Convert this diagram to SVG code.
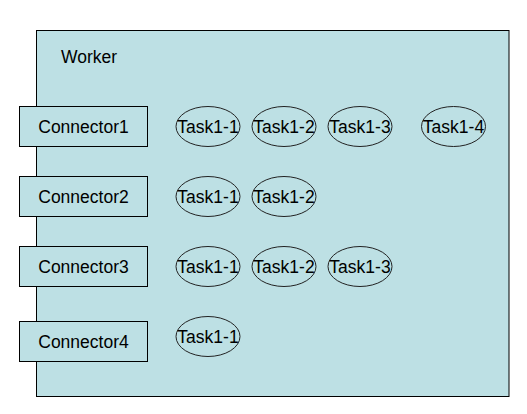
<svg xmlns="http://www.w3.org/2000/svg" width="527" height="414" viewBox="0 0 527 414">
<style>
.bx{fill:#bde0e4;stroke:#000;stroke-width:1}
.el{fill:#bde0e4;stroke:#222;stroke-width:1}
text{font-family:"Liberation Sans",Arial,sans-serif;font-size:17.5px;fill:#000}
.c{text-anchor:middle}
</style>
<rect width="527" height="414" fill="#fff"/>
<g id="worker">
<rect class="bx" x="36.5" y="30.5" width="472.5" height="366"/>
<text x="61" y="62.5">Worker</text>
</g>
<g id="connector1"><rect class="bx" x="19.5" y="106.5" width="128" height="40"/><text class="c" x="83.5" y="133">Connector1</text></g>
<g id="connector2"><rect class="bx" x="19.5" y="176.5" width="128" height="40"/><text class="c" x="83.5" y="203">Connector2</text></g>
<g id="connector3"><rect class="bx" x="19.5" y="246.5" width="128" height="40"/><text class="c" x="83.5" y="273">Connector3</text></g>
<g id="connector4"><rect class="bx" x="19.5" y="321.5" width="128" height="40"/><text class="c" x="83.5" y="348">Connector4</text></g>
<g id="r1t1"><ellipse class="el" cx="208" cy="126.5" rx="32" ry="20"/><text class="c" x="208" y="133">Task1-1</text></g>
<g id="r1t2"><ellipse class="el" cx="284" cy="126.5" rx="32" ry="20"/><text class="c" x="284" y="133">Task1-2</text></g>
<g id="r1t3"><ellipse class="el" cx="360" cy="126.5" rx="32" ry="20"/><text class="c" x="360" y="133">Task1-3</text></g>
<g id="r1t4"><ellipse class="el" cx="453.5" cy="126.5" rx="32" ry="20"/><text class="c" x="453.5" y="133">Task1-4</text></g>
<g id="r2t1"><ellipse class="el" cx="208" cy="196.5" rx="32" ry="20"/><text class="c" x="208" y="203">Task1-1</text></g>
<g id="r2t2"><ellipse class="el" cx="284" cy="196.5" rx="32" ry="20"/><text class="c" x="284" y="203">Task1-2</text></g>
<g id="r3t1"><ellipse class="el" cx="208" cy="266.5" rx="32" ry="20"/><text class="c" x="208" y="273">Task1-1</text></g>
<g id="r3t2"><ellipse class="el" cx="284" cy="266.5" rx="32" ry="20"/><text class="c" x="284" y="273">Task1-2</text></g>
<g id="r3t3"><ellipse class="el" cx="360" cy="266.5" rx="32" ry="20"/><text class="c" x="360" y="273">Task1-3</text></g>
<g id="r4t1"><ellipse class="el" cx="208" cy="336.5" rx="32" ry="20"/><text class="c" x="208" y="343">Task1-1</text></g>
<g id="connectors"></g>
</svg>
